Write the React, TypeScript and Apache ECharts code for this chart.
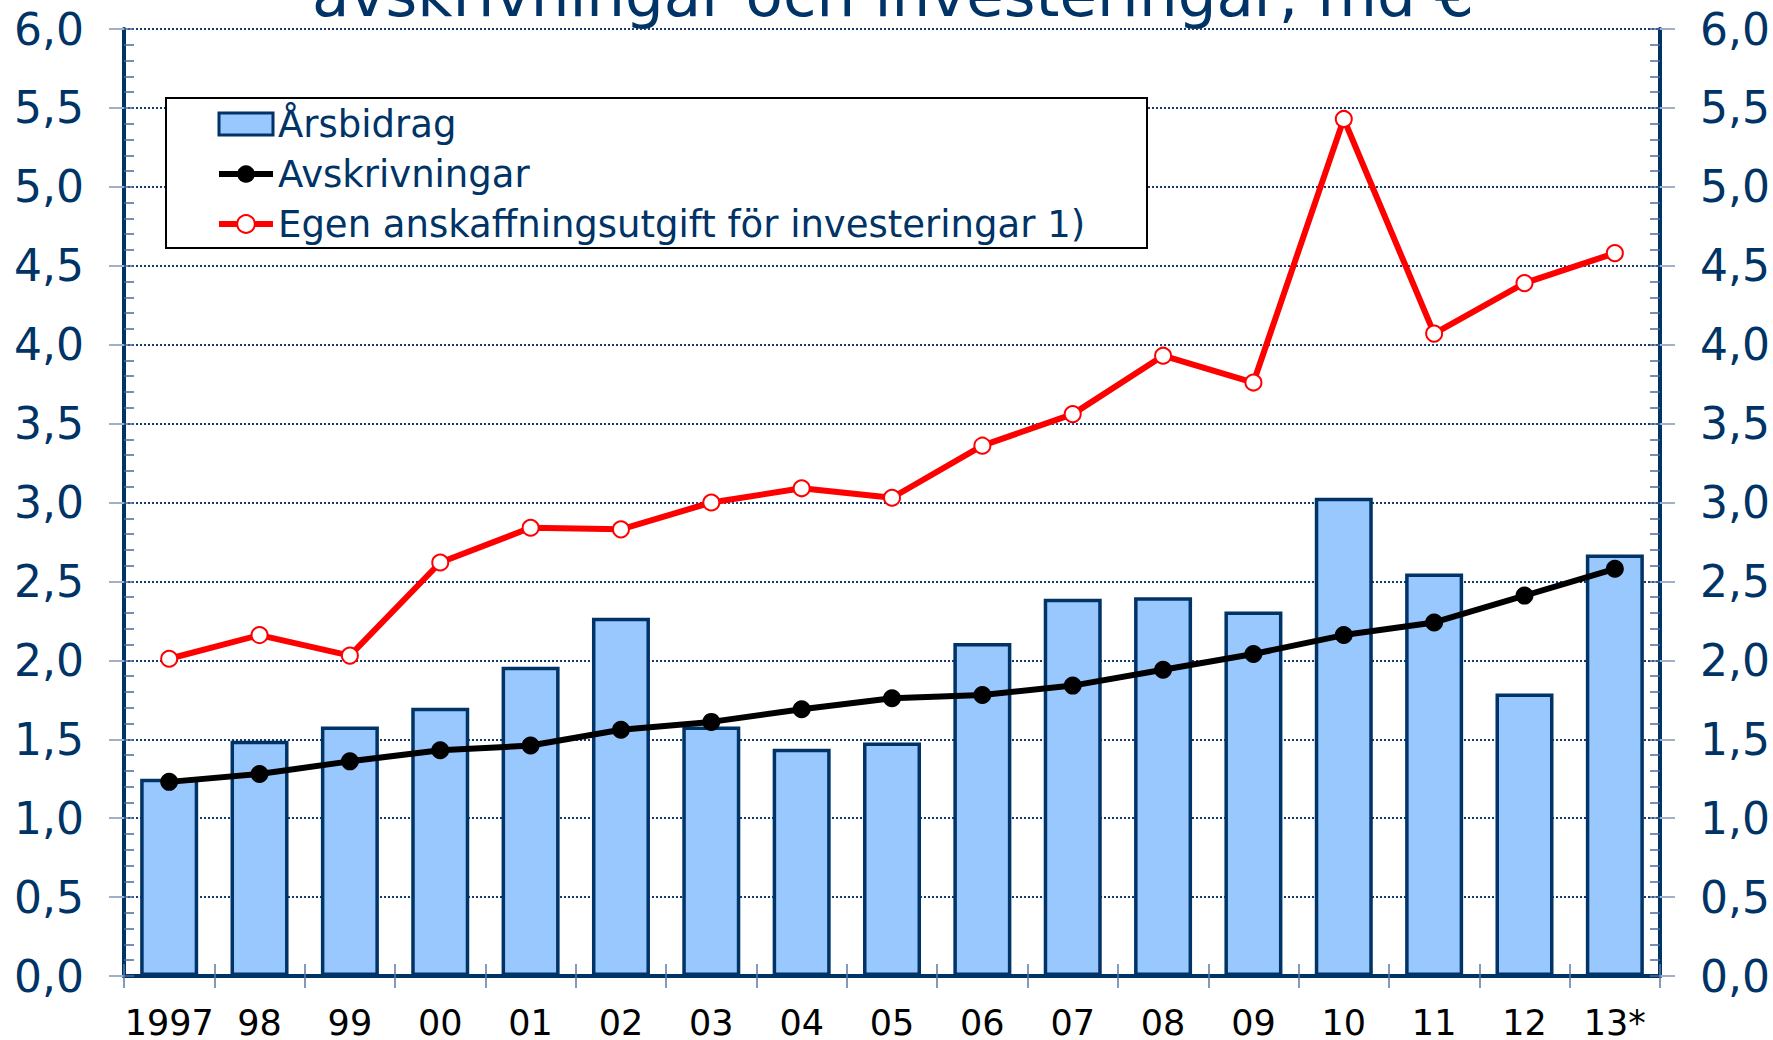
import React, { useEffect, useRef } from "react";
import * as echarts from "echarts";

const titleText = "avskrivningar och investeringar, md €";
const categories = ["1997", "98", "99", "00", "01", "02", "03", "04", "05", "06", "07", "08", "09", "10", "11", "12", "13*"];
const arsbidrag = [1.25, 1.49, 1.58, 1.7, 1.96, 2.27, 1.58, 1.44, 1.48, 2.11, 2.39, 2.4, 2.31, 3.03, 2.55, 1.79, 2.67];
const avskrivningar = [1.23, 1.28, 1.36, 1.43, 1.46, 1.56, 1.61, 1.69, 1.76, 1.78, 1.84, 1.94, 2.04, 2.16, 2.24, 2.41, 2.58];
const investeringar = [2.01, 2.16, 2.03, 2.62, 2.84, 2.83, 3.0, 3.09, 3.03, 3.36, 3.56, 3.93, 3.76, 5.43, 4.07, 4.39, 4.58];
const seriesNames = ["Årsbidrag", "Avskrivningar", "Egen anskaffningsutgift för investeringar 1)"];

const NAVY = "#003366";
const FONT = "'DejaVu Sans', Verdana, sans-serif";

export default function App() {
  const ref = useRef<HTMLDivElement>(null);
  useEffect(() => {
    if (!ref.current) return;
    const chart = echarts.init(ref.current, null, { renderer: "svg" });
    const fmt = (v: number) => v.toFixed(1).replace(".", ",");
    const majorAxis = (pos: "left" | "right", split: boolean) => ({
      type: "value",
      position: pos,
      min: 0,
      max: 6,
      interval: 0.5,
      axisLine: { show: true, lineStyle: { color: NAVY, width: 4 } },
      axisTick: { show: true, inside: false, length: 15, lineStyle: { color: "#9fb0c8", width: 2 } },
      axisLabel: {
        show: true,
        formatter: fmt,
        margin: 40,
        color: NAVY,
        fontSize: 44,
        fontFamily: FONT,
      },
      splitLine: split
        ? { show: true, lineStyle: { color: "#143a70", width: 2, type: [2, 2] } }
        : { show: false },
    });
    const minorAxis = (pos: "left" | "right") => ({
      type: "value",
      position: pos,
      min: 0,
      max: 6,
      interval: 0.1,
      axisLine: { show: false },
      axisTick: { show: true, inside: true, length: 10, lineStyle: { color: "#4a6a9a", width: 1.5 } },
      axisLabel: { show: false },
      splitLine: { show: false },
    });
    chart.setOption({
      animation: false,
      backgroundColor: "#ffffff",
      grid: { left: 124, right: 111, top: 29, bottom: 64, containLabel: false },
      graphic: [
        {
          type: "text",
          x: 893,
          y: -6,
          style: {
            text: titleText,
            fontSize: 61,
            fontFamily: FONT,
            fill: NAVY,
            align: "center",
            verticalAlign: "middle",
          },
        },
        {
          type: "rect",
          shape: { x: 166, y: 98, width: 981, height: 150 },
          style: { fill: "#ffffff", stroke: "#000000", lineWidth: 2 },
          z: 10,
        },
      ],
      legend: {
        show: true,
        orient: "vertical",
        left: 216,
        top: 104,
        padding: 0,
        itemGap: 10,
        itemWidth: 54,
        itemHeight: 22,
        z: 20,
        lineStyle: { width: 6 },
        textStyle: {
          color: NAVY,
          fontSize: 37,
          fontFamily: FONT,
          lineHeight: 40,
        },
        data: [
          { name: seriesNames[0], icon: "rect", itemStyle: { borderWidth: 3 } },
          { name: seriesNames[1] },
          { name: seriesNames[2] },
        ],
      },
      xAxis: [
        {
          type: "category",
          data: categories,
          position: "bottom",
          boundaryGap: true,
          axisLine: { show: true, lineStyle: { color: NAVY, width: 4 } },
          axisTick: { show: true, inside: false, length: 12, lineStyle: { color: "#5a78a6", width: 1.5 } },
          axisLabel: { color: "#000000", fontSize: 35, fontFamily: FONT, margin: 29, interval: 0 },
          splitLine: { show: false },
        },
        {
          type: "category",
          data: categories,
          position: "bottom",
          boundaryGap: true,
          axisLine: { show: false },
          axisTick: { show: true, inside: true, length: 12, lineStyle: { color: "#5a78a6", width: 1.5 } },
          axisLabel: { show: false },
          splitLine: { show: false },
        },
        {
          type: "category",
          data: categories,
          position: "top",
          axisLine: { show: true, lineStyle: { color: NAVY, width: 4 } },
          axisTick: { show: false },
          axisLabel: { show: false },
          splitLine: { show: false },
        },
      ],
      yAxis: [majorAxis("left", true), minorAxis("left"), majorAxis("right", false), minorAxis("right")],
      series: [
        {
          name: seriesNames[0],
          type: "bar",
          xAxisIndex: 0,
          yAxisIndex: 0,
          data: arsbidrag,
          barWidth: 58,
          itemStyle: { color: "#99c8ff", borderColor: NAVY, borderWidth: 3.5 },
          z: 2,
        },
        {
          name: seriesNames[1],
          type: "line",
          xAxisIndex: 0,
          yAxisIndex: 0,
          data: avskrivningar,
          symbol: "circle",
          symbolSize: 18,
          lineStyle: { color: "#000000", width: 6 },
          itemStyle: { color: "#000000", borderColor: "#000000", borderWidth: 0 },
          z: 3,
        },
        {
          name: seriesNames[2],
          type: "line",
          xAxisIndex: 0,
          yAxisIndex: 0,
          data: investeringar,
          symbol: "circle",
          symbolSize: 16,
          lineStyle: { color: "#ff0000", width: 6 },
          itemStyle: { color: "#ffffff", borderColor: "#ff0000", borderWidth: 2 },
          z: 4,
        },
      ],
    });
    return () => chart.dispose();
  }, []);
  return <div ref={ref} style={{ position: "fixed", left: 0, top: 0, width: 1773, height: 1040 }} />;
}
